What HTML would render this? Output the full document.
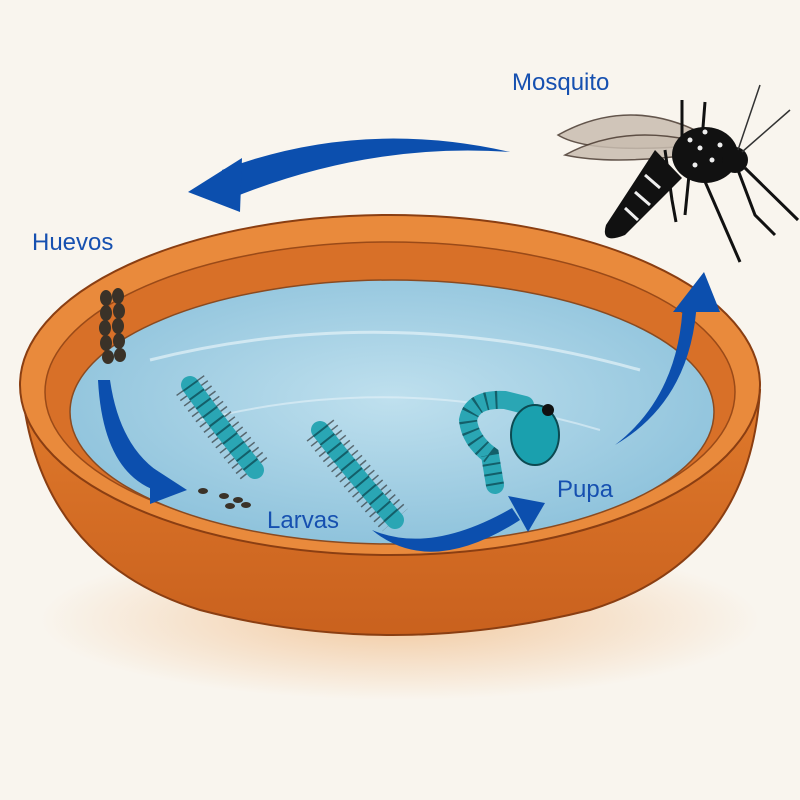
<!DOCTYPE html>
<html><head><meta charset="utf-8"><style>
html,body{margin:0;padding:0;background:#f9f5ee;}
svg{display:block}
text{font-family:"Liberation Sans",sans-serif;fill:#1650b0;font-size:24px;}
</style></head><body>
<svg width="800" height="800" viewBox="0 0 800 800" xmlns="http://www.w3.org/2000/svg">
<defs>
<radialGradient id="sh" cx="50%" cy="50%" r="50%"><stop offset="0" stop-color="#f2c9a0"/><stop offset="1" stop-color="#f9f5ee"/></radialGradient>
<linearGradient id="body" x1="0" y1="0" x2="0" y2="1"><stop offset="0" stop-color="#e07a2c"/><stop offset="1" stop-color="#c9611e"/></linearGradient>
<radialGradient id="water" cx="50%" cy="45%" r="55%"><stop offset="0" stop-color="#bfe0ee"/><stop offset="1" stop-color="#8fc3dc"/></radialGradient>
</defs>
<rect width="800" height="800" fill="#f9f5ee"/>
<ellipse cx="400" cy="620" rx="360" ry="80" fill="url(#sh)"/>
<path d="M22 390 Q40 560 200 610 Q390 660 590 610 Q750 560 760 390 Z" fill="url(#body)" stroke="#8a3e12" stroke-width="2"/>
<ellipse cx="390" cy="385" rx="370" ry="170" fill="#e98a3c" stroke="#8a3e12" stroke-width="2"/>
<ellipse cx="390" cy="392" rx="345" ry="150" fill="#d87028" stroke="#9a4a18" stroke-width="1.5"/>
<ellipse cx="392" cy="412" rx="322" ry="132" fill="url(#water)" stroke="#8a4a20" stroke-width="1.5"/>
<path d="M150 360 Q390 300 640 370" stroke="#e4f2f8" stroke-width="3" fill="none" opacity=".7"/>
<path d="M200 420 Q400 370 600 430" stroke="#e4f2f8" stroke-width="2" fill="none" opacity=".6"/>
<g fill="#3a3228">
<ellipse cx="106" cy="298" rx="6" ry="8"/><ellipse cx="118" cy="296" rx="6" ry="8"/>
<ellipse cx="106" cy="313" rx="6" ry="8"/><ellipse cx="119" cy="311" rx="6" ry="8"/>
<ellipse cx="105" cy="328" rx="6" ry="8"/><ellipse cx="118" cy="326" rx="6" ry="8"/>
<ellipse cx="106" cy="343" rx="6" ry="8"/><ellipse cx="119" cy="341" rx="6" ry="8"/>
<ellipse cx="108" cy="357" rx="6" ry="7"/><ellipse cx="120" cy="355" rx="6" ry="7"/>
<ellipse cx="203" cy="491" rx="5" ry="3"/><ellipse cx="224" cy="496" rx="5" ry="3"/><ellipse cx="238" cy="500" rx="5" ry="3"/><ellipse cx="230" cy="506" rx="5" ry="3"/><ellipse cx="246" cy="505" rx="5" ry="3"/>
</g>
<g>
<path d="M190 385 Q215 420 255 470" stroke="#222" stroke-width="34" stroke-dasharray="1.5 5" opacity=".6" fill="none"/>
<path d="M190 385 Q215 420 255 470" stroke="#2aa6b4" stroke-width="18" fill="none" stroke-linecap="round"/>
<path d="M190 385 Q215 420 255 470" stroke="#135f6a" stroke-width="18" fill="none" stroke-dasharray="2 9"/>
<path d="M320 430 Q355 475 395 520" stroke="#222" stroke-width="34" stroke-dasharray="1.5 5" opacity=".6" fill="none"/>
<path d="M320 430 Q355 475 395 520" stroke="#2aa6b4" stroke-width="18" fill="none" stroke-linecap="round"/>
<path d="M320 430 Q355 475 395 520" stroke="#135f6a" stroke-width="18" fill="none" stroke-dasharray="2 9"/>
</g>
<path d="M495 485 L490 455 Q470 440 468 420 Q472 398 505 400 L525 405" stroke="#2aa6b4" stroke-width="18" fill="none" stroke-linecap="round"/>
<path d="M495 485 L490 455 Q470 440 468 420 Q472 398 505 400" stroke="#135f6a" stroke-width="18" fill="none" stroke-dasharray="2 8"/>
<ellipse cx="535" cy="435" rx="24" ry="30" fill="#1aa0ae" stroke="#0c4a52" stroke-width="2"/>
<circle cx="548" cy="410" r="6" fill="#111"/>
<g fill="#0c4fae">
<path d="M510 152 Q360 118 222 170 L232 198 Q370 142 510 152 Z"/>
<path d="M188 192 L242 158 L240 212 Z"/>
<path d="M98 380 Q103 475 160 492 L165 476 Q120 450 110 380 Z"/>
<path d="M187 490 L150 466 L150 504 Z"/>
<path d="M372 530 Q430 578 520 520 L512 508 Q430 555 372 530 Z"/>
<path d="M545 503 L508 496 L528 532 Z"/>
<path d="M615 445 Q692 400 697 300 L683 300 Q680 395 615 445 Z"/>
<path d="M704 272 L673 312 L720 312 Z"/>
</g>
<g>
<path d="M705 135 Q630 95 558 135 Q590 155 705 145 Z" fill="#c9bdb0" stroke="#4a3a30" stroke-width="1.5" opacity=".85"/>
<path d="M690 140 Q620 125 565 155 Q610 165 690 155 Z" fill="#c9bdb0" stroke="#4a3a30" stroke-width="1.5" opacity=".85"/>
<g stroke="#111" stroke-width="3" fill="none">
<path d="M682 140 L682 100 M702 140 L705 102"/>
<path d="M665 150 L672 200 L676 222"/>
<path d="M690 165 L685 215"/>
<path d="M700 170 L740 262"/>
<path d="M738 170 L755 215 L775 235"/>
<path d="M745 168 L798 220"/>
</g>
<path d="M655 150 L682 178 L625 235 Q600 245 606 225 Z" fill="#111"/>
<g stroke="#eee" stroke-width="3"><path d="M645 175 L660 188 M635 192 L650 205 M625 208 L638 220"/></g>
<ellipse cx="705" cy="155" rx="33" ry="28" fill="#111"/>
<g fill="#eee"><circle cx="690" cy="140" r="2.5"/><circle cx="700" cy="148" r="2.5"/><circle cx="712" cy="160" r="2.5"/><circle cx="695" cy="165" r="2.5"/><circle cx="720" cy="145" r="2.5"/><circle cx="705" cy="132" r="2.5"/></g>
<circle cx="735" cy="160" r="13" fill="#111"/>
<g stroke="#333" stroke-width="1.5"><path d="M738 150 L760 85 M742 152 L790 110"/></g>
</g>
<text x="512" y="90">Mosquito</text>
<text x="32" y="250">Huevos</text>
<text x="267" y="528">Larvas</text>
<text x="557" y="497">Pupa</text>
</svg>
</body></html>
